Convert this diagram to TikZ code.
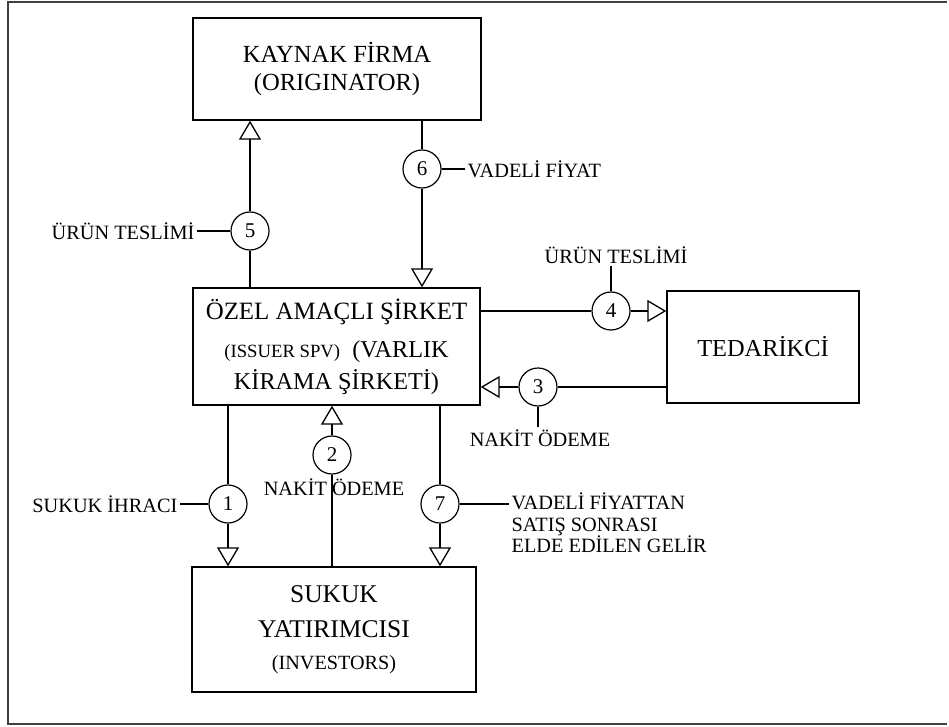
\documentclass[tikz,border=0pt]{standalone}
\usepackage{fontspec}
\setmainfont{Liberation Serif}
\usetikzlibrary{arrows.meta}
\tikzset{
  box/.style={draw, line width=1.4pt, align=center, inner sep=0pt},
  num/.style={draw, circle, line width=1.2pt, minimum size=38pt, inner sep=0pt,
    font=\fontsize{21}{21}\selectfont},
  lbl/.style={inner sep=2pt, font=\fontsize{20.3}{21.5}\selectfont},
  flow/.style={-{Triangle[open, length=19pt, width=22pt]}},
}
\begin{document}
\begin{tikzpicture}[x=1pt, y=-1pt, line width=1.3pt]
      \useasboundingbox (0,0) rectangle (949,727);
      \draw[line width=2pt, black!75] (947,2) -- (8,2) -- (8,724) -- (947,724);
      % boxes
      \node[box, minimum width=288pt, minimum height=102pt,
        font=\fontsize{24.6}{28}\selectfont] (kaynak) at (337,69)
        {KAYNAK FİRMA\\(ORIGINATOR)};
      \node[box, minimum width=287pt, minimum height=117pt,
        font=\fontsize{24.2}{32}\selectfont] (ozel) at (336.5,346.5)
        {{\fontsize{24.9}{32}\selectfont ÖZEL AMAÇLI ŞİRKET}\\[6pt]
         {\fontsize{18.7}{32}\selectfont (ISSUER SPV)}\ \ (VARLIK\\
         KİRAMA ŞİRKETİ)};
      \node[box, minimum width=192pt, minimum height=112pt,
        font=\fontsize{24.4}{28}\selectfont] (tedarik) at (763,347) {TEDARİKCİ};
      \node[box, minimum width=284pt, minimum height=125pt,
        font=\fontsize{25.5}{35}\selectfont] (sukuk) at (334,629.5)
        {SUKUK\\YATIRIMCISI\\[-3pt]{\fontsize{20.2}{32}\selectfont (INVESTORS)}};
      % numbered circles
      \node[num] (c1) at (228,504) {1};
      \node[num] (c2) at (332,455) {2};
      \node[num] (c3) at (538,387) {3};
      \node[num] (c4) at (611,311) {4};
      \node[num] (c5) at (250,231) {5};
      \node[num] (c6) at (422,169) {6};
      \node[num] (c7) at (440,504) {7};
      % labels
      \node[lbl, anchor=east] (l1) at (180,504) {SUKUK İHRACI};
      \node[lbl] (l2) at (334,487) {NAKİT ÖDEME};
      \node[lbl] (l3) at (540,438) {NAKİT ÖDEME};
      \node[lbl] (l4) at (616,255) {ÜRÜN TESLİMİ};
      \node[lbl, anchor=east] (l5) at (197,231) {ÜRÜN TESLİMİ};
      \node[lbl, anchor=west] (l6) at (465,169) {VADELİ FİYAT};
      \node[lbl, anchor=west, align=left] (l7) at (509,523)
        {VADELİ FİYATTAN\\SATIŞ SONRASI\\ELDE EDİLEN GELİR};
      % flows
      \begin{scope}[-]
        \draw (ozel.north -| c5) -- (c5);
        \draw[flow] (c5) -- (c5 |- kaynak.south);
        \draw (kaynak.south -| c6) -- (c6);
        \draw[flow] (c6) -- (c6 |- ozel.north);
        \draw (ozel.east |- c4) -- (c4);
        \draw[flow] (c4) -- (c4 -| tedarik.west);
        \draw (tedarik.west |- c3) -- (c3);
        \draw[flow] (c3) -- (c3 -| ozel.east);
        \draw (ozel.south -| c1) -- (c1);
        \draw[flow] (c1) -- (c1 |- sukuk.north);
        \draw (sukuk.north -| c2) -- (c2);
        \draw[flow] (c2) -- (c2 |- ozel.south);
        \draw (ozel.south -| c7) -- (c7);
        \draw[flow] (c7) -- (c7 |- sukuk.north);
      \end{scope}
      % label lines
      \begin{scope}[line width=1.1pt]
        \draw (l1) -- (c1);
        \draw (l5) -- (c5);
        \draw (c6) -- (l6);
        \draw (c4) -- (c4 |- l4.south);
        \draw (c3) -- (c3 |- l3.north);
        \draw (c7) -- (c7 -| l7.west);
      \end{scope}
    \end{tikzpicture}
\end{document}
